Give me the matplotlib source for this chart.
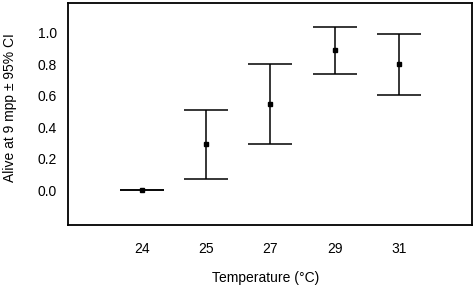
import matplotlib
matplotlib.use("Agg")
import matplotlib.pyplot as plt
import numpy as np

plt.rcParams['font.family'] = ['Liberation Sans', 'DejaVu Sans']

temps = ["24", "25", "27", "29", "31"]
alive = [0.0, 0.295, 0.55, 0.89, 0.80]
ci_low = [0.0, 0.07, 0.297, 0.737, 0.606]
ci_high = [0.0, 0.51, 0.805, 1.04, 0.99]
yticks = [0.0, 0.2, 0.4, 0.6, 0.8, 1.0]

fig = plt.figure(figsize=(4.74, 3.03), dpi=100)
ax = fig.add_axes([68/474, 78/303, (472-68)/474, (225-3)/303])

x = np.arange(len(temps))
alive_a = np.array(alive)
yerr = np.vstack([alive_a - np.array(ci_low), np.array(ci_high) - alive_a])
ax.errorbar(x, alive_a, yerr=yerr, fmt='s', color='black', ms=3.5,
            elinewidth=1.1, capsize=15.7, capthick=1.1)

ax.set_xlim(-1.15, 5.14)
ax.set_ylim(-0.22, 1.19)
ax.set_xticks(x)
ax.set_xticklabels(temps)
ax.set_yticks(yticks)
ax.set_yticklabels([f"{v:.1f}" for v in yticks])
ax.tick_params(length=0, labelsize=10)
ax.tick_params(axis='x', pad=12)
ax.tick_params(axis='y', pad=8)
for s in ax.spines.values():
    s.set_linewidth(1.3)

ax.set_xlabel("Temperature (°C)", fontsize=10)
ax.set_ylabel("Alive at 9 mpp ± 95% CI", fontsize=10)
ax.xaxis.set_label_coords(0.489, -0.205)
ax.yaxis.set_label_coords(-0.127, 0.53)

fig.savefig("out.png", dpi=100)
